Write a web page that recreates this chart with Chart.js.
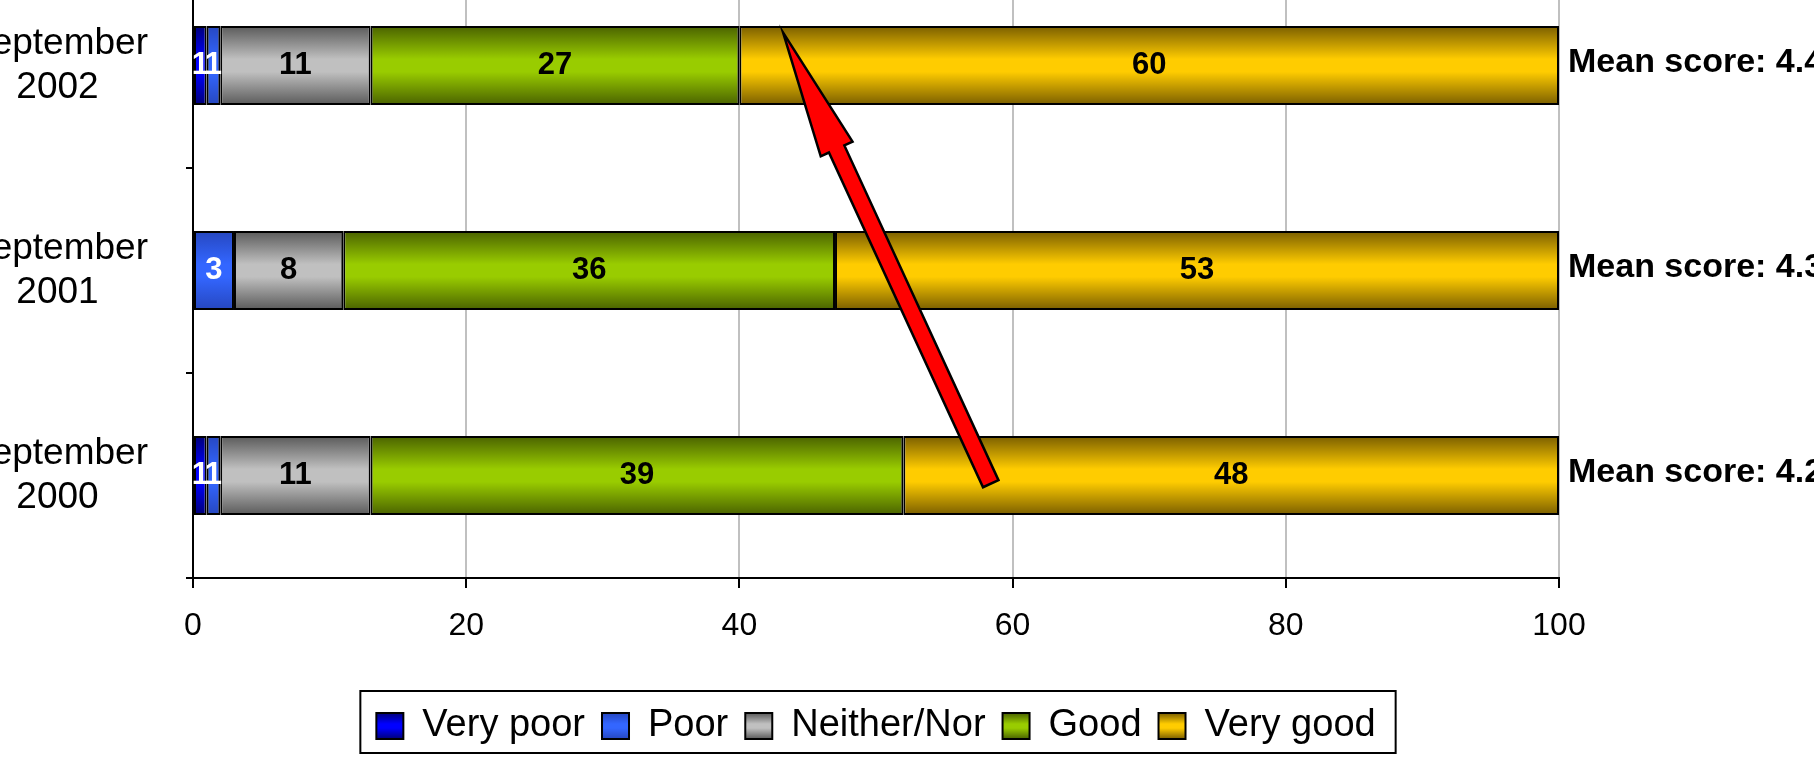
<!DOCTYPE html>
<html>
<head>
<meta charset="utf-8">
<title>Service rating by survey wave</title>
<script src="https://cdn.jsdelivr.net/npm/chart.js@4/dist/chart.umd.min.js"></script>
<style>
  html, body { margin: 0; padding: 0; background: #ffffff; overflow: hidden; }
  #frame { position: relative; width: 1814px; height: 758px; overflow: hidden; background: #ffffff; }
  #stage { position: absolute; left: -60px; top: -137px; width: 1919px; height: 896px; }
  #chart { display: block; }
</style>
</head>
<body>
<div id="frame">
  <div id="stage"><canvas id="chart" width="1919" height="896" style="width:1919px;height:896px"></canvas></div>
</div>
<script>
// Survey waves, top to bottom
const categories = ['September 2002', 'September 2001', 'September 2000'];

// Percentage of respondents per rating
const veryPoor   = [1, 0, 1];
const poor       = [1, 3, 1];
const neitherNor = [11, 8, 11];
const good       = [27, 36, 39];
const veryGood   = [60, 53, 48];

// Mean score printed beside each bar
const meanScores = [4.4, 4.3, 4.2];

// Percentage axis
const xMin = 0;
const xMax = 100;
const xStep = 20;

// Trend arrow, in axis units (x: percent, y: category index)
const trendFrom = { x: 58.4, y: 2.04 };
const trendTo   = { x: 43.2, y: -0.16 };

const FONT = '"Liberation Sans", Arial, Helvetica, sans-serif';
const BAR_PCT = 0.385;

// Shaded fill: dark at the bar edges, bright through the middle
function shade(edge, centre) {
  return function (ctx) {
    const chart = ctx.chart;
    const yScale = chart.scales && chart.scales.y;
    if (!chart.chartArea || !yScale || ctx.type !== 'data') return centre;
    const mid = yScale.getPixelForValue(ctx.dataIndex);
    const half = (yScale.height / categories.length) * BAR_PCT / 2;
    const g = chart.ctx.createLinearGradient(0, mid - half, 0, mid + half);
    g.addColorStop(0, edge);
    g.addColorStop(0.42, centre);
    g.addColorStop(0.58, centre);
    g.addColorStop(1, edge);
    return g;
  };
}

const palette = [
  { label: 'Very poor',   data: veryPoor,   edge: '#000078', centre: '#0000ff', text: '#ffffff' },
  { label: 'Poor',        data: poor,       edge: '#2647c0', centre: '#3366ff', text: '#ffffff' },
  { label: 'Neither/Nor', data: neitherNor, edge: '#5a5a5a', centre: '#c0c0c0', text: '#000000' },
  { label: 'Good',        data: good,       edge: '#4a6200', centre: '#99cc00', text: '#000000' },
  { label: 'Very good',   data: veryGood,   edge: '#7a5e00', centre: '#ffcc00', text: '#000000' }
];

const datasets = palette.map(p => ({
  label: p.label,
  data: p.data,
  backgroundColor: shade(p.edge, p.centre),
  borderColor: '#000000',
  borderWidth: 2,
  borderSkipped: false,
  barPercentage: BAR_PCT,
  categoryPercentage: 1,
  textColor: p.text,
  edgeColor: p.edge,
  centreColor: p.centre
}));

// Shaded legend swatches and a frame round the legend
const legendStyle = {
  id: 'legendStyle',
  beforeDraw(chart) {
    const legend = chart.legend;
    if (!legend || !legend.legendItems) return;
    const opts = legend.options.labels;
    const top = legend.top + opts.padding;
    const size = opts.font.size;
    const boxTop = top + (Math.max(size, opts.boxHeight) - opts.boxHeight) / 2;
    legend.legendItems.forEach(item => {
      const ds = chart.data.datasets[item.datasetIndex];
      const g = chart.ctx.createLinearGradient(0, boxTop, 0, boxTop + opts.boxHeight);
      g.addColorStop(0, ds.edgeColor);
      g.addColorStop(0.42, ds.centreColor);
      g.addColorStop(0.58, ds.centreColor);
      g.addColorStop(1, ds.edgeColor);
      item.fillStyle = g;
    });
  },
  afterDraw(chart) {
    const legend = chart.legend;
    if (!legend || !legend.legendHitBoxes || !legend.legendHitBoxes.length) return;
    const boxes = legend.legendHitBoxes;
    const left = Math.min(...boxes.map(b => b.left)) - 16;
    const right = Math.max(...boxes.map(b => b.left + b.width)) + 20;
    const ctx = chart.ctx;
    ctx.save();
    ctx.strokeStyle = '#000000';
    ctx.lineWidth = 2;
    ctx.strokeRect(left, legend.top + 1, right - left, legend.height - 3);
    ctx.restore();
  }
};

// Values inside each segment
const segmentLabels = {
  id: 'segmentLabels',
  afterDatasetsDraw(chart) {
    const ctx = chart.ctx;
    ctx.save();
    ctx.font = 'bold 31px ' + FONT;
    ctx.textAlign = 'center';
    ctx.textBaseline = 'middle';
    chart.data.datasets.forEach((ds, di) => {
      const meta = chart.getDatasetMeta(di);
      meta.data.forEach((bar, i) => {
        const v = ds.data[i];
        if (!v) return;
        ctx.fillStyle = ds.textColor;
        ctx.fillText(String(v), (bar.x + bar.base) / 2, bar.y);
      });
    });
    ctx.restore();
  }
};

// Mean score beside each bar
const meanLabels = {
  id: 'meanLabels',
  afterDatasetsDraw(chart) {
    const ctx = chart.ctx;
    const xScale = chart.scales.x;
    const yScale = chart.scales.y;
    ctx.save();
    ctx.font = 'bold 34px ' + FONT;
    ctx.textAlign = 'left';
    ctx.textBaseline = 'middle';
    ctx.fillStyle = '#000000';
    meanScores.forEach((m, i) => {
      ctx.fillText('Mean score: ' + m.toFixed(1), xScale.getPixelForValue(xMax) + 9, yScale.getPixelForValue(i) - 3);
    });
    ctx.restore();
  }
};

// Red trend arrow across the waves
const trendArrow = {
  id: 'trendArrow',
  afterDatasetsDraw(chart) {
    const xs = chart.scales.x, ys = chart.scales.y;
    const sx = xs.getPixelForValue(trendFrom.x), sy = ys.getPixelForValue(trendFrom.y);
    const tx = xs.getPixelForValue(trendTo.x), ty = ys.getPixelForValue(trendTo.y);
    const len = Math.hypot(tx - sx, ty - sy);
    const ux = (tx - sx) / len, uy = (ty - sy) / len;
    const nx = -uy, ny = ux;
    const shaft = 8.5, head = 17.5, headLen = 128;
    const bx = tx - ux * headLen, by = ty - uy * headLen;
    const pts = [
      [sx + nx * shaft, sy + ny * shaft],
      [bx + nx * shaft, by + ny * shaft],
      [bx + nx * head, by + ny * head],
      [tx, ty],
      [bx - nx * head, by - ny * head],
      [bx - nx * shaft, by - ny * shaft],
      [sx - nx * shaft, sy - ny * shaft]
    ];
    const ctx = chart.ctx;
    ctx.save();
    ctx.beginPath();
    pts.forEach((p, i) => (i ? ctx.lineTo(p[0], p[1]) : ctx.moveTo(p[0], p[1])));
    ctx.closePath();
    ctx.fillStyle = '#ff0000';
    ctx.fill();
    ctx.lineWidth = 2.5;
    ctx.lineJoin = 'miter';
    ctx.strokeStyle = '#000000';
    ctx.stroke();
    ctx.restore();
  }
};

new Chart(document.getElementById('chart'), {
  type: 'bar',
  data: { labels: categories, datasets },
  plugins: [legendStyle, segmentLabels, meanLabels, trendArrow],
  options: {
    indexAxis: 'y',
    responsive: false,
    animation: false,
    devicePixelRatio: 1,
    events: [],
    layout: { padding: { top: 100, right: 300, bottom: 4, left: 0 } },
    scales: {
      x: {
        stacked: true,
        min: xMin,
        max: xMax,
        ticks: {
          stepSize: xStep,
          color: '#000000',
          padding: 19,
          font: { family: FONT, size: 32 }
        },
        grid: {
          color: '#c0c0c0',
          lineWidth: 2,
          tickColor: '#000000',
          tickLength: 10,
          drawTicks: true
        },
        border: { display: true, color: '#000000', width: 2 },
        afterFit(scale) { scale.height = 112; }
      },
      y: {
        stacked: true,
        ticks: {
          color: '#000000',
          crossAlign: 'center',
          padding: 38,
          font: { family: FONT, size: 37, lineHeight: 1.2 },
          callback(value) { return this.getLabelForValue(value).split(' '); }
        },
        grid: {
          offset: true,
          drawOnChartArea: false,
          drawTicks: true,
          tickLength: 7,
          tickColor: '#000000',
          lineWidth: 2
        },
        border: { display: true, color: '#000000', width: 2 },
        afterFit(scale) { scale.width = 253; }
      }
    },
    plugins: {
      tooltip: { enabled: false },
      title: { display: false },
      legend: {
        display: true,
        position: 'bottom',
        align: 'center',
        fullSize: false,
        labels: {
          color: '#000000',
          font: { family: FONT, size: 38 },
          boxWidth: 27,
          boxHeight: 26,
          padding: 17
        }
      }
    }
  }
});
</script>
</body>
</html>
